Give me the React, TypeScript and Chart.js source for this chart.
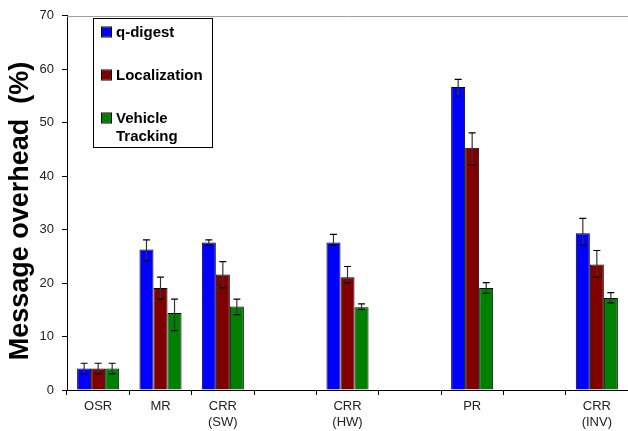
import React, { useEffect, useRef } from "react";
import { Chart, registerables } from "chart.js";

Chart.register(...registerables);

const categories: (string | string[])[] = ["OSR", "MR", ["CRR", "(SW)"], "", ["CRR", "(HW)"], "", "PR", "", ["CRR", "(INV)"]];
const seriesLabels = ["q-digest", "Localization", "Vehicle Tracking"];
const seriesColors = ["#0000FF", "#800000", "#008000"];
const yTitle = "Message overhead  (%)";

const qdigest = [4, 26.3, 27.6, null, 27.6, null, 56.7, null, 29.3];
const localization = [4, 19.1, 21.6, null, 21.1, null, 45.3, null, 23.5];
const vehicle = [4, 14.4, 15.6, null, 15.5, null, 19.1, null, 17.2];

const qdigestLow = [3, 24.2, 27.1, null, 27.1, null, 55.0, null, 27.1];
const qdigestHigh = [5, 28.1, 28.1, null, 29.1, null, 58.1, null, 32.1];
const localizationLow = [3, 17.0, 19.1, null, 20.1, null, 42.1, null, 21.1];
const localizationHigh = [5, 21.1, 24.0, null, 23.1, null, 48.1, null, 26.1];
const vehicleLow = [3, 11.1, 14.1, null, 15.1, null, 18.1, null, 16.3];
const vehicleHigh = [5, 17.0, 17.0, null, 16.1, null, 20.1, null, 18.2];

const yTicks = [0, 10, 20, 30, 40, 50, 60, 70];

const errLows = [qdigestLow, localizationLow, vehicleLow];
const errHighs = [qdigestHigh, localizationHigh, vehicleHigh];

const errorBarPlugin = {
  id: "errorBars",
  afterDatasetsDraw(chart: any) {
    const ctx = chart.ctx;
    const yScale = chart.scales.y;
    chart.data.datasets.forEach((ds: any, di: number) => {
      const meta = chart.getDatasetMeta(di);
      meta.data.forEach((bar: any, i: number) => {
        const lo = errLows[di][i];
        const hi = errHighs[di][i];
        if (lo == null || hi == null) return;
        const x = bar.x;
        const y1 = yScale.getPixelForValue(lo);
        const y2 = yScale.getPixelForValue(hi);
        ctx.save();
        ctx.strokeStyle = "#333";
        ctx.lineWidth = 1.2;
        ctx.beginPath();
        ctx.moveTo(x, y1);
        ctx.lineTo(x, y2);
        ctx.stroke();
        ctx.strokeStyle = "#000";
        ctx.beginPath();
        ctx.moveTo(x - 3.5, y1);
        ctx.lineTo(x + 3.5, y1);
        ctx.moveTo(x - 3.5, y2);
        ctx.lineTo(x + 3.5, y2);
        ctx.stroke();
        ctx.restore();
      });
    });
  },
};

const framePlugin = {
  id: "frameAndLegend",
  beforeDatasetsDraw(chart: any) {
    const ctx = chart.ctx;
    const a = chart.chartArea;
    ctx.save();
    ctx.strokeStyle = "#a0a0a0";
    ctx.lineWidth = 1;
    ctx.beginPath();
    ctx.moveTo(a.left, Math.round(a.top) + 0.5);
    ctx.lineTo(a.right, Math.round(a.top) + 0.5);
    ctx.stroke();
    ctx.restore();
  },
  afterDraw(chart: any) {
    const ctx = chart.ctx;
    ctx.save();
    // y-axis title
    ctx.save();
    ctx.translate(21, 211);
    ctx.rotate(-Math.PI / 2);
    ctx.font = "bold 27px Arial, 'Liberation Sans', sans-serif";
    ctx.fillStyle = "#000";
    ctx.textAlign = "center";
    ctx.textBaseline = "middle";
    ctx.fillText(yTitle, 0, 0);
    ctx.restore();
    // legend
    const bx = 93.5, by = 18.5, bw = 119, bh = 129;
    ctx.fillStyle = "#fff";
    ctx.fillRect(bx, by, bw, bh);
    ctx.strokeStyle = "#000";
    ctx.lineWidth = 1;
    ctx.strokeRect(bx, by, bw, bh);
    ctx.font = "bold 15px Arial, 'Liberation Sans', sans-serif";
    ctx.textBaseline = "middle";
    ctx.textAlign = "left";
    const rows = [32, 75, 118];
    chart.data.datasets.forEach((ds: any, i: number) => {
      const y = rows[i];
      ctx.fillStyle = ds.backgroundColor;
      ctx.fillRect(102, y - 4.5, 9, 9);
      ctx.strokeStyle = "#000";
      ctx.strokeRect(101.5, y - 5, 10, 10);
      ctx.fillStyle = "#000";
      const words = String(ds.label).split(" ");
      words.forEach((w: string, k: number) => {
        ctx.fillText(w, 116, y + k * 18 + 1);
      });
    });
    ctx.restore();
  },
};

export default function App() {
  const ref = useRef<HTMLCanvasElement | null>(null);
  useEffect(() => {
    document.body.style.margin = "0";
    if (!ref.current) return;
    const datasets = [qdigest, localization, vehicle].map((d, i) => ({
      label: seriesLabels[i],
      data: d,
      backgroundColor: seriesColors[i],
      borderColor: "#000",
      borderWidth: 1,
      barPercentage: 1,
      categoryPercentage: 0.675,
    }));
    const chart = new Chart(ref.current, {
      type: "bar",
      data: { labels: categories as any, datasets: datasets as any },
      plugins: [framePlugin, errorBarPlugin],
      options: {
        animation: false,
        responsive: false,
        maintainAspectRatio: false,
        layout: { padding: { top: 13, right: 0, left: 0, bottom: 0 } },
        plugins: { legend: { display: false }, tooltip: { enabled: false } },
        scales: {
          x: {
            grid: {
              offset: true,
              drawOnChartArea: false,
              drawTicks: true,
              tickLength: 5,
              color: "#000",
            },
            border: { color: "#000", width: 1 },
            ticks: {
              color: "#222",
              font: { family: "Arial, 'Liberation Sans', sans-serif", size: 13 },
              padding: 4,
              maxRotation: 0,
              autoSkip: false,
            },
            afterFit(scale: any) {
              scale.height = 41;
            },
          },
          y: {
            min: 0,
            max: 70,
            afterBuildTicks(scale: any) {
              scale.ticks = yTicks.map((v) => ({ value: v }));
            },
            grid: {
              drawOnChartArea: false,
              drawTicks: true,
              tickLength: 5,
              color: "#000",
            },
            border: { color: "#000", width: 1 },
            ticks: {
              color: "#222",
              font: { family: "Arial, 'Liberation Sans', sans-serif", size: 13 },
              padding: 8,
            },
            title: { display: false },
            afterFit(scale: any) {
              scale.width = 67;
            },
          },
        },
      } as any,
    });
    return () => chart.destroy();
  }, []);
  return (
    <div style={{ position: "absolute", left: 0, top: 0, width: 628, height: 431 }}>
      <canvas ref={ref} width={628} height={431} style={{ width: 628, height: 431, display: "block" }} />
    </div>
  );
}
